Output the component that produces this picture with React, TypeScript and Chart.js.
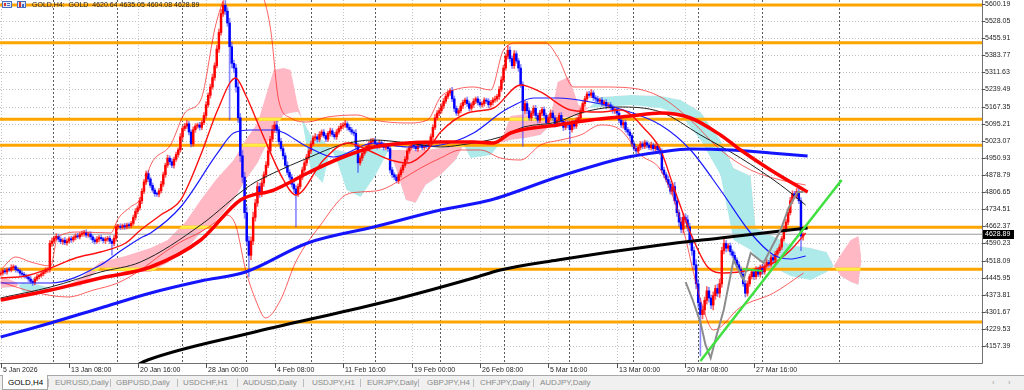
import { useEffect, useRef } from "react";
import { Chart, registerables } from "chart.js";

Chart.register(...registerables);

type P = [number, number];

const headerText = "GOLD,H4:  GOLD  4620.64 4635.05 4604.08 4628.89";
const firstOpen = 4460;
const lastPrice = 4628.89;

const closes = [
  4465,4475,4470,4480,4478,4488,4492,4480,4475,4465,4460,4455,4448,4440,4430,4425,4440,4450,4455,4462,
  4470,4478,4480,4590,4600,4612,4620,4608,4598,4604,4593,4600,4610,4605,4615,4622,4618,4628,4632,4636,
  4625,4630,4618,4605,4598,4608,4615,4610,4602,4608,4612,4600,4590,4612,4660,4662,4658,4665,4660,4668,
  4665,4675,4700,4725,4740,4770,4810,4850,4885,4862,4835,4815,4800,4798,4812,4840,4880,4920,4950,4935,
  4920,4945,4965,4985,5040,5075,5085,5095,5060,5010,5070,5085,5090,5080,5100,5130,5175,5215,5250,5290,
  5340,5410,5480,5560,5595,5570,5520,5420,5350,5330,5250,5120,4960,4870,4720,4600,4540,4600,4700,4760,
  4830,4800,4845,4880,4920,4980,5030,5070,5090,5070,5020,4990,4960,4920,4890,4870,4840,4820,4800,4830,
  4870,4900,4930,4955,4980,5010,5035,5040,5030,5050,5060,5045,5030,5055,5065,5050,5040,5060,5075,5085,
  5090,5095,5080,5070,5060,5055,5000,4930,4950,4970,4985,5000,5010,5020,5025,5010,5000,5015,5005,4995,
  5000,4990,4900,4880,4870,4855,4880,4900,4920,4945,4980,4995,5005,5000,4990,5010,5005,4995,5005,5000,
  5010,5040,5080,5120,5140,5150,5170,5190,5210,5225,5235,5200,5160,5140,5150,5170,5185,5195,5180,5160,
  5175,5190,5200,5185,5175,5180,5195,5190,5175,5185,5195,5200,5210,5240,5280,5330,5380,5405,5370,5340,
  5390,5360,5330,5260,5150,5180,5150,5120,5140,5160,5130,5110,5140,5155,5130,5100,5120,5140,5120,5095,
  5110,5130,5105,5080,5100,5090,5070,5100,5085,5110,5120,5150,5180,5200,5220,5215,5225,5205,5200,5190,
  5195,5180,5185,5170,5175,5165,5150,5155,5140,5110,5090,5100,5070,5060,5045,5010,4990,4980,4995,5010,
  5000,5015,5005,4995,5005,4990,5000,4985,4975,4900,4880,4860,4840,4810,4830,4770,4720,4680,4650,4700,
  4690,4660,4600,4560,4500,4420,4340,4290,4310,4350,4390,4360,4330,4370,4400,4380,4420,4560,4590,4570,
  4580,4555,4540,4520,4500,4480,4460,4420,4380,4420,4450,4470,4450,4480,4460,4490,4470,4495,4510,4500,
  4530,4520,4545,4560,4575,4610,4650,4680,4720,4770,4800,4790,4810,4770,4621,4628.89,
];

const upperWicks = [
  8,6,10,7,9,12,8,6,9,7,10,8,6,9,11,7,8,10,6,9,
  7,10,8,12,14,9,11,8,10,7,12,9,8,10,7,9,11,8,10,9,
  12,8,10,7,9,11,8,10,6,9,8,10,7,12,9,8,11,7,10,8,
  9,8,10,12,9,14,11,10,10,12,8,10,9,7,10,12,11,9,13,10,
  12,9,11,8,14,10,12,15,10,9,12,10,8,11,9,12,14,10,12,15,
  12,16,14,18,15,20,15,20,18,14,16,20,18,22,20,25,20,18,22,16,
  18,14,16,12,15,14,12,18,14,16,12,14,10,12,15,11,12,10,14,12,
  10,12,9,11,10,12,9,14,10,12,9,11,10,8,12,10,9,11,10,12,
  10,14,9,11,10,8,15,12,10,9,11,8,10,12,9,10,8,11,9,10,
  12,10,14,11,9,10,8,10,9,12,10,8,11,9,10,12,8,10,9,11,
  10,12,10,14,11,12,10,12,9,10,8,14,12,10,9,11,10,8,12,10,
  9,11,8,10,12,9,10,8,11,9,10,12,9,12,14,12,10,20,15,12,
  14,12,10,15,12,14,10,12,9,11,13,10,12,9,11,10,12,14,10,9,
  11,10,12,9,10,8,12,10,9,11,10,12,9,11,10,12,14,10,9,11,
  8,10,9,12,8,10,9,11,8,10,12,9,11,10,12,9,10,11,8,10,
  9,11,8,10,12,9,10,8,11,14,12,10,15,12,14,18,15,12,20,16,
  14,18,15,20,16,22,18,20,16,14,18,15,12,16,14,18,20,14,18,12,
  10,12,9,14,10,12,11,10,14,12,10,9,11,12,10,9,11,10,12,9,
  11,10,12,9,12,10,14,12,10,14,12,10,12,20,14,6,
];

const lowerWicks = [
  7,9,8,10,6,8,9,11,7,10,8,9,7,10,8,12,9,7,10,8,
  9,7,10,11,12,10,8,11,9,12,8,10,9,11,8,10,7,9,8,11,
  10,9,11,12,10,8,11,9,10,12,9,11,49,10,12,9,10,8,11,9,
  10,9,8,11,10,9,12,10,11,12,10,9,11,10,12,9,10,11,9,12,
  10,12,9,11,10,12,9,10,12,13,10,11,9,12,10,9,11,10,12,9,
  12,10,14,11,12,15,14,309,20,18,22,20,25,22,24,20,91,18,15,16,
  14,16,12,14,12,10,12,11,12,14,12,10,14,12,11,10,12,14,140,12,
  10,11,9,12,10,11,9,10,12,11,10,9,11,10,12,9,10,11,9,10,
  11,10,12,9,10,11,12,40,10,11,9,10,12,9,11,10,12,9,10,11,
  10,12,14,12,11,10,12,10,11,9,12,10,9,11,10,12,9,10,11,9,
  10,11,12,10,9,11,10,12,9,10,11,12,14,10,12,9,11,10,12,10,
  9,11,10,12,9,10,11,9,12,10,11,9,10,12,9,11,10,12,14,12,
  12,10,14,12,150,12,14,10,12,11,13,12,10,12,11,14,12,10,11,13,
  10,12,11,14,10,12,60,11,12,10,11,9,10,12,11,9,10,12,11,10,
  9,11,10,12,9,10,11,12,10,12,11,14,10,12,11,12,10,11,12,10,
  11,10,12,9,11,10,12,10,11,14,12,10,14,12,15,14,16,18,14,16,
  15,18,16,20,18,22,20,175,18,20,16,18,15,20,16,14,18,15,14,16,
  12,14,11,12,14,10,12,11,16,12,11,10,12,11,10,12,11,10,9,11,
  10,12,11,10,9,11,10,12,11,10,12,10,11,12,61,17,
];

const timeTickBars = [0, 32, 64, 96, 128, 160, 192, 224, 256, 288, 320, 352];
const timeTickLabels = [
  "5 Jan 2026", "13 Jan 08:00", "20 Jan 16:00", "28 Jan 00:00", "4 Feb 08:00", "11 Feb 16:00",
  "19 Feb 00:00", "26 Feb 08:00", "5 Mar 16:00", "13 Mar 00:00", "20 Mar 08:00", "27 Mar 16:00",
];
const priceTicks = [
  5600.19, 5528.05, 5455.91, 5383.77, 5311.63, 5239.49, 5167.35, 5095.21, 5023.07, 4950.93, 4878.79,
  4806.65, 4734.51, 4662.37, 4590.23, 4518.09, 4445.95, 4373.81, 4301.67, 4229.53, 4157.39,
];
const weekSeparatorBars = [24.3, 54.4, 84.6, 114.7, 144.9, 175, 205.1, 235.3, 265.4, 295.6, 325.7, 355.8, 391.6];
const levelPrices = [5596.0, 5437.0, 5113.8, 5004.1, 4658.2, 4481.0, 4258.7];

const maThickBlue: P[] = [
  [0, 4195.4], [23.4, 4254.5], [46.7, 4317.8], [70.1, 4381.1], [93.5, 4431.6], [114.5, 4469.6],
  [143.5, 4591.9], [174.3, 4659.3], [205.6, 4731.2], [229, 4773.4], [260.3, 4870.3], [291.1, 4950.5],
  [308.4, 4975.9], [322.4, 4988.5], [341.1, 4984.3], [359.8, 4971.7], [377.1, 4959.0],
];
const maThickBlack: P[] = [
  [55, 4050], [60.7, 4064.6], [68.7, 4098.4], [116.8, 4212.3], [163.6, 4309.3], [186.9, 4360],
  [221, 4444.3], [233.6, 4478.1], [260.3, 4520.3], [308.4, 4583.6], [336.4, 4613.1], [377.1, 4655.3],
];
const maThickRed: P[] = [
  [0, 4351.5], [23.4, 4393.7], [46.7, 4444.3], [70.1, 4490.7], [93.5, 4604.6], [112.1, 4773.4],
  [127.6, 4815.5], [143.5, 4887.3], [158.9, 4950.5], [174.3, 4996.9], [190.2, 5013.8], [205.6, 5018],
  [221, 5018], [230.4, 5013.8], [238.3, 5056], [260.3, 5089.7], [275.7, 5110.9], [294.4, 5127.7],
  [308.4, 5140.4], [322.4, 5119.3], [336.4, 5047.5], [345.8, 4984.3], [359.8, 4900], [377.1, 4807],
];
const maThinBlack: P[] = [
  [0, 4360], [23.4, 4406.4], [46.7, 4469.6], [65.4, 4511.9], [93.5, 4668], [116.8, 4836.6],
  [127.6, 4887.3], [143.5, 4950.5], [158.9, 5005.4], [174.3, 5026.5], [190.2, 5013.8], [205.6, 4996.9],
  [215, 5005.4], [233.6, 5039.1], [244.4, 5081.3], [260.3, 5102.4], [271, 5140.4], [288.3, 5165.7],
  [308.4, 5144.6], [327.1, 5047.5], [345.8, 4950.5], [364.5, 4836.6], [376.2, 4752],
];
const maThinBlue: P[] = [
  [0, 4423.2], [23.4, 4423.2], [46.7, 4499.2], [54.7, 4549.8], [65.4, 4613.1], [70.1, 4634.1],
  [84.1, 4743.8], [101.4, 4971.7], [108.9, 5056], [116.8, 5068.7], [127.6, 5068.7], [143.5, 4996.9],
  [155.6, 4954.7], [174.3, 5013.8], [190.2, 4996.9], [205.6, 5005.4], [221, 5056], [233.6, 5140.4],
  [238.3, 5165.7], [249.1, 5203.7], [260.3, 5203.7], [275.7, 5186.8], [291.1, 5153.1], [308.4, 5089.7],
  [322.4, 4984.3], [336.4, 4815.5], [350.5, 4634.1], [361.2, 4541.3], [369.2, 4524.4], [376.2, 4537.1],
];
const maMidRed: P[] = [
  [0, 4444.3], [11.7, 4452.7], [23.4, 4486.5], [35, 4528.7], [46.7, 4554], [58.4, 4592], [65.4, 4646.8],
  [74.8, 4710.1], [84.1, 4773.4], [93.5, 4963.2], [101.4, 5153.1], [109.8, 5288.1], [114.5, 5216.3],
  [121.5, 5068.7], [132.2, 4857.7], [137.9, 4794.5], [150.9, 4942.1], [162.1, 5013.8], [171.5, 4984.3],
  [182.2, 4942.1], [190.2, 4929.4], [199.5, 4984.3], [205.6, 5060.2], [218.2, 5140.4], [230.4, 5161.5],
  [243, 5258.5], [252.3, 5229], [266.4, 5153.1], [280.4, 5144.6], [289.7, 5153.1], [301.4, 5068.7],
  [308.4, 4984.3], [314.5, 4828.2], [322.4, 4634.1], [330.4, 4490.7], [337.9, 4465.4], [350.5, 4478.1],
  [361.2, 4507.6], [369.2, 4562.4], [376.2, 4634.1],
];
const bandUpper: P[] = [
  [0, 4478.1], [7, 4532.9], [14, 4511.8], [23.4, 4494.9], [26.6, 4617.3], [37.4, 4638.4], [51.4, 4634.1],
  [55.1, 4697.4], [60.7, 4743.8], [65.4, 4781.8], [70.1, 4921], [79.4, 5005.4], [86.4, 5144.6],
  [93.5, 5195.2], [100.5, 5511.6], [106.5, 5659.3], [116.8, 5701.5], [122.4, 5638.2], [126.2, 5490.5],
  [129.9, 5195.2], [135.5, 5119.3], [143.5, 5102.4], [152.8, 5123.5], [166.8, 5131.9], [174.3, 5110.9],
  [190.2, 5098.2], [199.5, 5110.9], [205.6, 5207.9], [211.7, 5237.4], [221, 5250.1], [229, 5237.4],
  [235, 5406.2], [241.6, 5435.7], [254.7, 5435.7], [260.3, 5376.7], [267.8, 5250.1], [280.4, 5250.1],
  [294.4, 5245.9], [308.4, 5207.9], [322.4, 5110.9], [336.4, 4984.3], [350.5, 4900], [364.5, 4857.7],
  [376.2, 4836.6],
];
const bandLower: P[] = [
  [0, 4427.4], [15.4, 4385.2], [31.3, 4364.1], [43.5, 4393.7], [54.7, 4423.2], [65.4, 4478.1],
  [74.8, 4541.3], [84.1, 4596.2], [93.5, 4638.4], [100.5, 4680.5], [105.1, 4710.1], [109.8, 4667.9],
  [114.5, 4478.1], [119.2, 4351.5], [123.8, 4275.6], [130.8, 4351.5], [137.9, 4511.8], [149.5, 4667.9],
  [161.2, 4794.5], [168.2, 4807.1], [177.6, 4815.5], [186.9, 4857.7], [196.3, 4908.4], [205.6, 4950.5],
  [215, 4984.3], [224.3, 4984.3], [233.6, 4950.5], [243, 4942.1], [252.3, 5005.4], [261.7, 5026.5],
  [271, 5047.5], [280.4, 5089.7], [289.7, 5068.7], [299.1, 4963.2], [308.4, 4900], [317.8, 4689.1],
  [327.1, 4351.5], [333.2, 4224.9], [345.8, 4321.9], [361.2, 4381], [375.2, 4465.4],
];
const grayLine: P[] = [
  [320.1, 4427.4], [323.4, 4351.5], [327.1, 4254.5], [329.4, 4161.7], [331.8, 4106.9], [334.6, 4203.9],
  [337.9, 4309.3], [342.5, 4520.3], [347.2, 4436], [350.5, 4549.8], [356.5, 4507.6], [364.5, 4646.8],
  [368.2, 4739.6], [372.4, 4807], [375.2, 4807],
];
const trendLine: P[] = [[327, 4094], [393, 4857.4]];
const shortGreen: P[] = [[346.7, 4482.3], [356.1, 4473.9]];

const cloudBars = [
  0, 7, 8.4, 10.3, 16.4, 23.4, 28, 37.4, 46.7, 58.4, 70.1, 78, 86.4, 93.5, 100.5, 108.9, 114.5, 120.1,
  127.6, 132.2, 135.5, 138.8, 140.7, 144.9, 150.5, 154.2, 157, 161.7, 168.2, 175.2, 181.3, 184.6, 189.3,
  193.9, 198.6, 205.6, 212.6, 216.4, 219.6, 229, 233.6, 238.3, 245.3, 252.3, 257, 260.3, 265.4, 270.1,
  274.8, 280.4, 294.4, 308.4, 317.8, 327.1, 336.4, 342.5, 350.5, 352.8, 359.8, 369.2, 378.5, 386, 389.3,
  392.5, 397.2, 400.9, 402.3,
];
const spanA = [
  4452.7, 4427.4, 4414.8, 4385.2, 4376.8, 4385.2, 4397.9, 4444.3, 4511.8, 4537.1,
  4570.9, 4604.6, 4680.5, 4773.4, 4857.7, 4942.1, 5026.5, 5098.2, 5321.8, 5330.2,
  5321.8, 5174.1, 5119.3, 4900, 4845.1, 4992.7, 4942.1, 4815.5, 4786, 4878.8,
  4984.3, 4984.3, 4984.3, 4984.3, 4984.3, 4992.7, 5001.2, 5005.4, 4950.5, 4963.2,
  5013.8, 5127.7, 5136.2, 5106.6, 5123.5, 5271.2, 5292.3, 5174.1, 5161.5, 5165.7,
  5174.1, 5161.5, 5131.9, 5026.5, 4878.8, 4604.6, 4562.4, 4537.1, 4494.9, 4452.7,
  4435.9, 4469.6, 4494.9, 4541.3, 4604.6, 4621.5, 4520.3,
];
const spanB = [
  4402.1, 4406.3, 4414.8, 4423.2, 4419, 4402.1, 4397.9, 4410.5, 4486.5, 4469.6,
  4469.6, 4507.6, 4562.4, 4634.1, 4680.5, 4773.4, 4857.7, 4929.4, 5068.7, 5131.9,
  5140.4, 5144.6, 5119.3, 5047.5, 5026.5, 4992.7, 4984.3, 4975.9, 4984.3, 4992.7,
  4984.3, 4908.4, 4773.4, 4760.7, 4836.6, 4878.8, 4942.1, 5005.4, 5026.5, 5013.8,
  5013.8, 5026.5, 5034.9, 5047.5, 5089.7, 5123.5, 5123.5, 5127.7, 5161.5, 5207.9,
  5216.3, 5212.1, 5195.2, 5144.6, 5026.5, 4908.4, 4874.6, 4655.2, 4625.7, 4583.5,
  4570.9, 4554, 4494.9, 4452.7, 4427.4, 4414.8, 4520.3,
];

const tabNames = [
  "GOLD,H4", "EURUSD,Daily", "GBPUSD,Daily", "USDCHF,H1", "AUDUSD,Daily", "USDJPY,H1",
  "EURJPY,Daily", "GBPJPY,H4", "CHFJPY,Daily", "AUDJPY,Daily",
];
const TAB_TEXT_LEFT = [8, 55, 116, 183, 243, 312, 367, 427, 480, 540];
const TAB_SEP_LEFT = [48, 110, 177, 237, 303, 360, 418, 473, 533];

const X_MIN = -0.3;
const X_MAX = 458.6;
const Y_MIN = 4085.68;
const Y_MAX = 5617.06;
const FONT = '7px "Liberation Sans", Arial, sans-serif';

const opens = closes.map((c, i) => (i === 0 ? firstOpen : closes[i - 1]));
const isUp = closes.map((c, i) => c >= opens[i]);
const bodies = closes.map((c, i) => ({ x: i, y: [Math.min(opens[i], c), Math.max(opens[i], c)] }));
const wicks = closes.map((c, i) => ({
  x: i,
  y: [Math.min(opens[i], c) - lowerWicks[i], Math.max(opens[i], c) + upperWicks[i]],
}));

const toXY = (pts: P[]) => pts.map(([x, y]) => ({ x, y }));
const lineDs = (pts: P[], color: string, width: number, order: number, smooth = true) => ({
  type: "line" as const,
  data: toXY(pts),
  borderColor: color,
  borderWidth: width,
  pointRadius: 0,
  fill: false,
  tension: smooth ? 0.4 : 0,
  cubicInterpolationMode: smooth ? ("monotone" as const) : ("default" as const),
  order,
  clip: 0,
});

// Where the pink (Senkou A above B) cloud covers an orange level, MT4 shows the level in yellow.
function drawYellowOverlap(chart: any) {
  const { ctx, chartArea: a, scales } = chart;
  const x = scales.x;
  const y = scales.y;
  ctx.save();
  ctx.beginPath();
  ctx.rect(a.left, a.top, a.right - a.left, a.bottom - a.top);
  ctx.clip();
  ctx.beginPath();
  for (let i = 0; i < cloudBars.length - 1; i++) {
    const d0 = spanA[i] - spanB[i];
    const d1 = spanA[i + 1] - spanB[i + 1];
    if (d0 < 0 || d1 < 0 || (d0 === 0 && d1 === 0)) continue;
    ctx.moveTo(x.getPixelForValue(cloudBars[i]), y.getPixelForValue(spanA[i]));
    ctx.lineTo(x.getPixelForValue(cloudBars[i + 1]), y.getPixelForValue(spanA[i + 1]));
    ctx.lineTo(x.getPixelForValue(cloudBars[i + 1]), y.getPixelForValue(spanB[i + 1]));
    ctx.lineTo(x.getPixelForValue(cloudBars[i]), y.getPixelForValue(spanB[i]));
    ctx.closePath();
  }
  ctx.clip();
  ctx.strokeStyle = "#ffee40";
  ctx.lineWidth = 3;
  levelPrices.forEach((p) => {
    const py = y.getPixelForValue(p);
    ctx.beginPath();
    ctx.moveTo(a.left, py);
    ctx.lineTo(a.right, py);
    ctx.stroke();
  });
  ctx.restore();
}

const mt4Plugin = {
  id: "mt4",
  beforeDraw(chart: any) {
    const { ctx, width, height } = chart;
    ctx.save();
    ctx.fillStyle = "#ffffff";
    ctx.fillRect(0, 0, width, height);
    ctx.restore();
  },
  beforeDatasetsDraw(chart: any) {
    const { ctx, chartArea: a, scales } = chart;
    const x = scales.x;
    const y = scales.y;
    ctx.save();
    ctx.beginPath();
    ctx.rect(a.left, a.top, a.right - a.left, a.bottom - a.top);
    ctx.clip();
    ctx.lineWidth = 1;
    ctx.strokeStyle = "#c4c4c4";
    ctx.setLineDash([1, 2]);
    priceTicks.forEach((p) => {
      const py = Math.round(y.getPixelForValue(p)) + 0.5;
      ctx.beginPath();
      ctx.moveTo(a.left, py);
      ctx.lineTo(a.right, py);
      ctx.stroke();
    });
    timeTickBars.forEach((b) => {
      const px = Math.round(x.getPixelForValue(b)) + 0.5;
      ctx.beginPath();
      ctx.moveTo(px, a.top);
      ctx.lineTo(px, a.bottom);
      ctx.stroke();
    });
    ctx.strokeStyle = "#5a5a5a";
    ctx.setLineDash([2, 2]);
    weekSeparatorBars.forEach((b) => {
      const px = Math.round(x.getPixelForValue(b)) + 0.5;
      ctx.beginPath();
      ctx.moveTo(px, a.top);
      ctx.lineTo(px, a.bottom);
      ctx.stroke();
    });
    ctx.restore();
  },
  afterDatasetDraw(chart: any, args: any) {
    const ds = chart.data.datasets[args.index];
    if (ds && ds.yellowHook) drawYellowOverlap(chart);
  },
  afterDatasetsDraw(chart: any) {
    const { ctx, chartArea: a, scales } = chart;
    const x = scales.x;
    const y = scales.y;
    ctx.save();
    ctx.setLineDash([]);
    ctx.lineWidth = 1;
    ctx.strokeStyle = "#707070";
    ctx.beginPath();
    ctx.moveTo(a.right + 0.5, 0);
    ctx.lineTo(a.right + 0.5, a.bottom + 0.5);
    ctx.lineTo(0, a.bottom + 0.5);
    ctx.stroke();

    ctx.font = FONT;
    ctx.textAlign = "left";
    ctx.textBaseline = "middle";
    ctx.fillStyle = "#1e1e1e";
    ctx.strokeStyle = "#505050";
    priceTicks.forEach((p) => {
      const py = Math.round(y.getPixelForValue(p)) + 0.5;
      ctx.beginPath();
      ctx.moveTo(a.right, py);
      ctx.lineTo(a.right + 3, py);
      ctx.stroke();
      ctx.fillText(p.toFixed(2), a.right + 3, py);
    });
    const ly = Math.round(y.getPixelForValue(lastPrice));
    ctx.fillStyle = "#000000";
    ctx.fillRect(a.right + 1, ly - 4, 31, 9);
    ctx.fillStyle = "#ffffff";
    ctx.fillText(lastPrice.toFixed(2), a.right + 3, ly + 0.5);

    ctx.fillStyle = "#1e1e1e";
    timeTickBars.forEach((b, i) => {
      const px = Math.round(x.getPixelForValue(b)) + 0.5;
      ctx.beginPath();
      ctx.moveTo(px, a.bottom);
      ctx.lineTo(px, a.bottom + 5);
      ctx.stroke();
      ctx.fillText(timeTickLabels[i], px + 1.5, a.bottom + 7);
    });

    // header icons
    ctx.fillStyle = "#dfe8f7";
    ctx.fillRect(2, 1, 10, 7);
    ctx.strokeStyle = "#4a6fc0";
    ctx.strokeRect(2.5, 1.5, 9, 6);
    ctx.fillStyle = "#d83030";
    ctx.fillRect(4, 3, 2, 3);
    ctx.fillStyle = "#4a6fc0";
    ctx.fillRect(7, 3, 3, 1);
    ctx.fillRect(7, 5, 3, 1);
    ctx.fillStyle = "#dfe8f7";
    ctx.fillRect(17, 1, 9, 7);
    ctx.strokeStyle = "#4a6fc0";
    ctx.strokeRect(17.5, 1.5, 8, 6);
    ctx.fillStyle = "#d83030";
    ctx.fillRect(19, 2, 2, 5);
    ctx.fillStyle = "#3a66c4";
    ctx.fillRect(22, 4, 2, 3);

    ctx.fillStyle = "#202020";
    ctx.fillText(headerText, 32, 5);
    ctx.restore();
  },
};

export default function App() {
  const ref = useRef<HTMLCanvasElement>(null);

  useEffect(() => {
    if (!ref.current) return;
    const datasets: any[] = [];
    // Ichimoku cloud
    datasets.push({
      type: "line",
      data: cloudBars.map((b, i) => ({ x: b, y: spanA[i] })),
      borderColor: "rgba(0,0,0,0)",
      borderWidth: 1,
      pointRadius: 0,
      tension: 0,
      fill: { target: "+1", above: "#ffb8c4", below: "#aeeaea" },
      order: 90,
      clip: 0,
    });
    datasets.push({
      type: "line",
      data: cloudBars.map((b, i) => ({ x: b, y: spanB[i] })),
      borderColor: "rgba(0,0,0,0)",
      borderWidth: 1,
      pointRadius: 0,
      tension: 0,
      fill: false,
      order: 91,
      clip: 0,
    });
    levelPrices.forEach((p) => {
      datasets.push(lineDs([[X_MIN - 1, p], [X_MAX + 1, p]], "#ffa500", 3, 85, false));
    });
    datasets.push({
      ...lineDs([[X_MIN - 1, lastPrice], [X_MAX + 1, lastPrice]], "#9a9a9a", 1, 84, false),
      yellowHook: true,
    });
    datasets.push({
      type: "bar",
      data: wicks,
      backgroundColor: isUp.map((u) => (u ? "rgba(255,40,40,0.75)" : "rgba(60,60,255,0.6)")),
      barThickness: 1,
      grouped: false,
      borderWidth: 0,
      order: 70,
      clip: 0,
    });
    datasets.push({
      type: "bar",
      data: bodies,
      backgroundColor: isUp.map((u) => (u ? "#ff0000" : "#0000ff")),
      barThickness: 1.8,
      grouped: false,
      borderWidth: 0,
      minBarLength: 1,
      order: 69,
      clip: 0,
    });
    datasets.push(lineDs(bandUpper, "rgba(255,30,30,0.7)", 1, 50));
    datasets.push(lineDs(bandLower, "rgba(255,30,30,0.7)", 1, 50));
    datasets.push(lineDs(maThinBlack, "#202020", 1, 46));
    datasets.push(lineDs(maThinBlue, "#1a1aff", 1.2, 45));
    datasets.push(lineDs(maMidRed, "#ff1010", 1.4, 44));
    datasets.push(lineDs(maThickBlack, "#000000", 3, 41));
    datasets.push(lineDs(maThickBlue, "#1414ff", 3, 40));
    datasets.push(lineDs(maThickRed, "#ff0000", 3.5, 39));
    datasets.push(lineDs(grayLine, "#8c8c8c", 2, 20, false));
    datasets.push(lineDs(trendLine, "#3fe03f", 2.5, 10, false));
    datasets.push(lineDs(shortGreen, "#3fe03f", 2, 10, false));

    const chart = new Chart(ref.current, {
      type: "line",
      data: { datasets },
      options: {
        responsive: false,
        animation: false,
        events: [],
        devicePixelRatio: 1,
        layout: { padding: { left: 0, top: 0, right: 42, bottom: 12 } },
        plugins: { legend: { display: false }, tooltip: { enabled: false } },
        scales: {
          x: { type: "linear", display: false, min: X_MIN, max: X_MAX, offset: false },
          y: { type: "linear", display: false, min: Y_MIN, max: Y_MAX },
        },
      },
      plugins: [mt4Plugin],
    } as any);
    return () => chart.destroy();
  }, []);

  return (
    <div
      style={{
        position: "absolute",
        left: 0,
        top: 0,
        width: 1024,
        height: 390,
        background: "#ffffff",
        overflow: "hidden",
        fontFamily: '"Liberation Sans", Arial, sans-serif',
      }}
    >
      <canvas ref={ref} width={1024} height={375} style={{ display: "block", width: 1024, height: 375 }} />
      <div
        style={{
          position: "absolute",
          left: 0,
          top: 375,
          width: 1024,
          height: 15,
          background: "#f0f0f0",
          borderTop: "1px solid #a8a8a8",
          boxSizing: "border-box",
        }}
      >
        <div
          style={{
            position: "absolute",
            left: 2,
            top: -1,
            width: 46,
            height: 15,
            background: "#ffffff",
            border: "1px solid #a8a8a8",
            borderTop: "none",
            boxSizing: "border-box",
          }}
        />
        {tabNames.map((t, i) => (
          <span
            key={t}
            style={{
              position: "absolute",
              left: TAB_TEXT_LEFT[i],
              top: 1,
              fontSize: 8,
              lineHeight: "12px",
              color: i === 0 ? "#000000" : "#8a8a8a",
              whiteSpace: "nowrap",
            }}
          >
            {t}
          </span>
        ))}
        {TAB_SEP_LEFT.map((l) => (
          <div key={l} style={{ position: "absolute", left: l, top: 3, width: 1, height: 8, background: "#bcbcbc" }} />
        ))}
        <span style={{ position: "absolute", left: 992, top: 1, fontSize: 8, lineHeight: "12px", color: "#a0a0a0" }}>‹</span>
        <span style={{ position: "absolute", left: 1008, top: 1, fontSize: 8, lineHeight: "12px", color: "#a0a0a0" }}>›</span>
      </div>
    </div>
  );
}
